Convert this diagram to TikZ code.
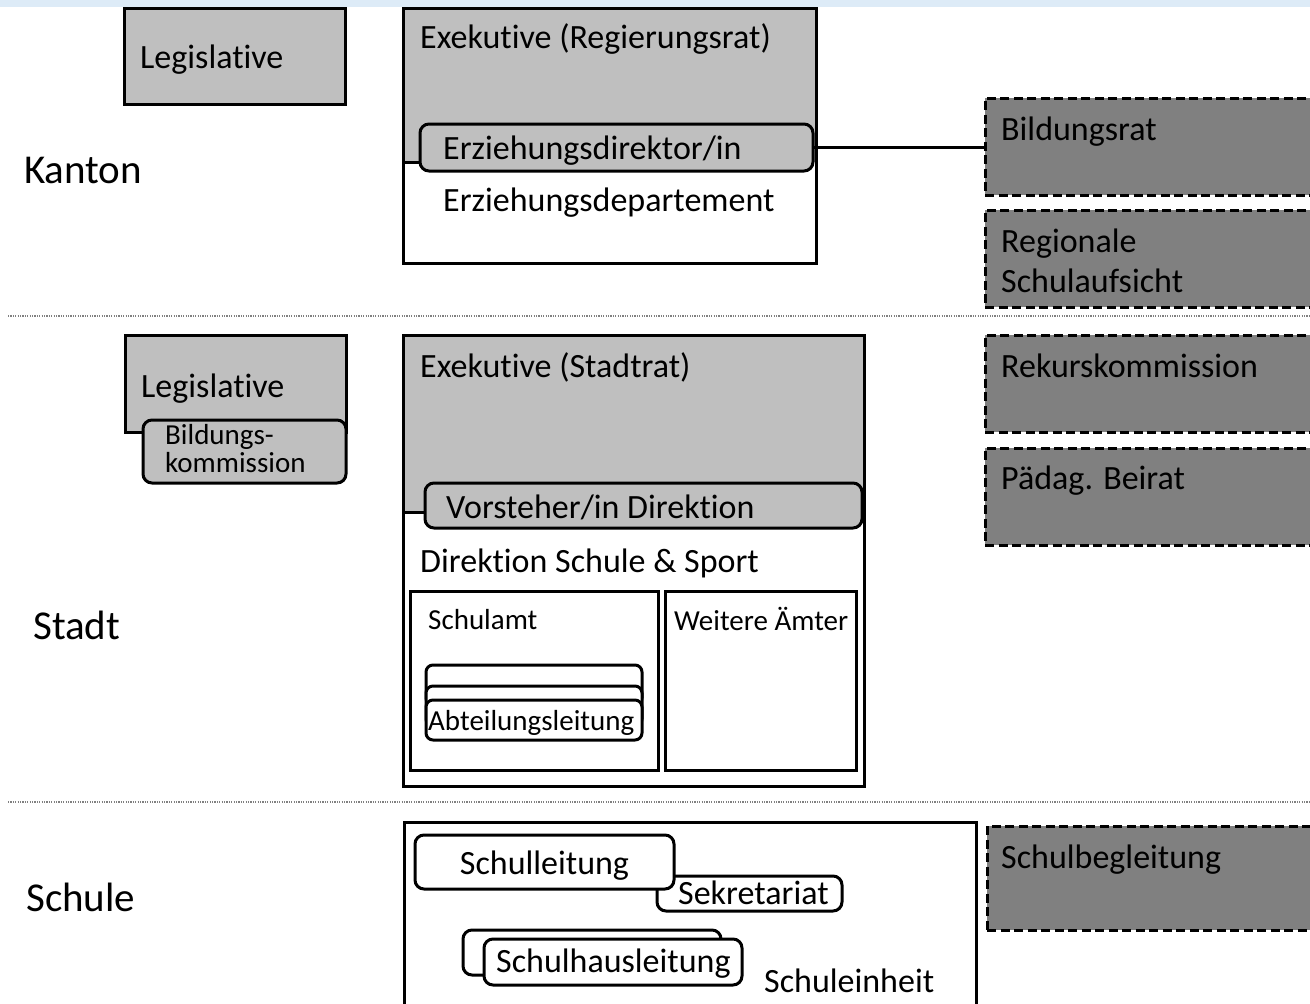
\documentclass[tikz,border=0pt]{standalone}
\usepackage{fontspec}
\setmainfont[Ligatures=NoCommon]{Carlito}
\definecolor{lg}{HTML}{BFBFBF}
\definecolor{dg}{HTML}{808080}
\definecolor{band}{HTML}{DDEBF7}
\tikzset{
 bx/.style={draw, line width=3pt, rectangle, inner sep=0pt, outer sep=0pt},
 rbx/.style={bx, rounded corners=9pt},
 dbx/.style={bx, fill=dg, dash pattern=on 9pt off 4.5pt},
 txt/.style={anchor=base west, inner sep=0pt, font=\fontsize{34}{40}\selectfont},
 stxt/.style={txt, font=\fontsize{29}{34}\selectfont},
 ltxt/.style={txt, font=\fontsize{41}{48}\selectfont},
 sep/.style={draw=gray, line width=1.2pt, dash pattern=on 1.2pt off 1.2pt},
 stepline/.style={line width=3pt},
}
% style, name, x1, y1, x2, y2
\newcommand\mybox[6]{%
 \node[#1, minimum width={(#5-#3)*1pt}, minimum height={(#6-#4)*1pt}] (#2) at ({(#3+#5)/2},{(#4+#6)/2}) {};}
\begin{document}
\begin{tikzpicture}[x=1pt,y=-1pt]
\useasboundingbox (0,0) rectangle (1310,1004);
\clip (0,0) rectangle (1310,1004);
% ---------------- Kanton
\node[ltxt] (kanton) at (24,183) {Kanton};
\mybox{bx,fill=lg}{klegis}{124}{8}{345}{104}
\node[txt] (klegist) at (140,68) {Legislative};
\path[fill=lg] (403,8) rectangle (816,162);
\mybox{bx}{kexe}{403}{8}{816}{263}
\node[txt] (kexet) at (420,48) {Exekutive (Regierungsrat)};
\draw[stepline] (403,162) -- (420,162);
\mybox{rbx,fill=lg}{erzdir}{420}{124}{813}{171}
\node[txt] (erzdirt) at (443,159) {Erziehungsdirektor/in};
\node[txt] (erzdep) at (443,211) {Erziehungsdepartement};
\mybox{dbx}{bildungsrat}{985}{98}{1340}{195}
\node[txt] (bildungsratt) at (1001,140) {Bildungsrat};
\mybox{dbx}{regional}{985}{210}{1340}{307}
\node[txt] (regional1) at (1001,252) {Regionale};
\node[txt] (regional2) at (1001,292) {Schulaufsicht};
\draw[line width=3pt] (erzdir.east) -- (erzdir.east -| bildungsrat.west);
% separator
\draw[sep] (8,316) -- (1310,316);
% ---------------- Stadt
\node[ltxt] (stadt) at (33,639) {Stadt};
\mybox{bx,fill=lg}{slegis}{125}{335}{346}{432}
\node[txt] (slegist) at (141,397) {Legislative};
\mybox{rbx,fill=lg}{bildkomm}{143}{420}{346}{483}
\node[stxt] (bk1) at (165,444) {Bildungs-};
\node[stxt] (bk2) at (165,472) {kommission};
\path[fill=lg] (403,335) rectangle (864,512);
\mybox{bx}{sexe}{403}{335}{864}{786}
\node[txt] (sexet) at (420,377) {Exekutive (Stadtrat)};
\draw[stepline] (403,512) -- (425,512);
\mybox{rbx,fill=lg}{vorsteher}{425}{483}{862}{528}
\node[txt] (vorstehert) at (446,518) {Vorsteher/in Direktion};
\node[txt] (direktion) at (420,572) {Direktion Schule \& Sport};
\mybox{bx}{schulamt}{410}{591}{658}{770}
\node[stxt] (schulamtt) at (428,629) {Schulamt};
\mybox{bx}{weitere}{665}{591}{856}{770}
\node[stxt] (weiteret) at (674,630) {Weitere Ämter};
\mybox{rbx,fill=white,rounded corners=7pt}{abt1}{426}{665}{642}{705}
\mybox{rbx,fill=white,rounded corners=7pt}{abt2}{426}{686}{642}{726}
\mybox{rbx,fill=white,rounded corners=7pt}{abt3}{426}{700}{642}{740}
\node[stxt] (abtt) at (428,730) {Abteilungsleitung};
\mybox{dbx}{rekurs}{985}{335}{1340}{432}
\node[txt] (rekurst) at (1001,377) {Rekurskommission};
\mybox{dbx}{paedag}{985}{448}{1340}{545}
\node[txt] (paedagt) at (1001,489) {Pädag. Beirat};
% separator
\draw[sep] (8,802) -- (1310,802);
% ---------------- Schule
\node[ltxt] (schule) at (26,911) {Schule};
\mybox{bx}{schulbox}{404}{822}{976}{1020}
\mybox{rbx,fill=white}{sekr}{657}{876}{842}{911}
\node[txt] (sekrt) at (678,904) {Sekretariat};
\mybox{rbx,fill=white}{schulleitung}{415}{835}{674}{889}
\node[txt, anchor=base] (schulleitungt) at (544.5,874) {Schulleitung};
\mybox{rbx,fill=white}{shl1}{463}{930}{721}{975}
\mybox{rbx,fill=white}{shl2}{484}{939}{742}{985}
\node[txt] (shlt) at (496,972) {Schulhausleitung};
\node[txt] (schuleinheit) at (764,992) {Schuleinheit};
\mybox{dbx}{schulbeg}{987}{826}{1340}{930}
\node[txt] (schulbegt) at (1001,868) {Schulbegleitung};
% top band
\fill[band] (0,0) rectangle (1310,7);
\end{tikzpicture}
\end{document}
